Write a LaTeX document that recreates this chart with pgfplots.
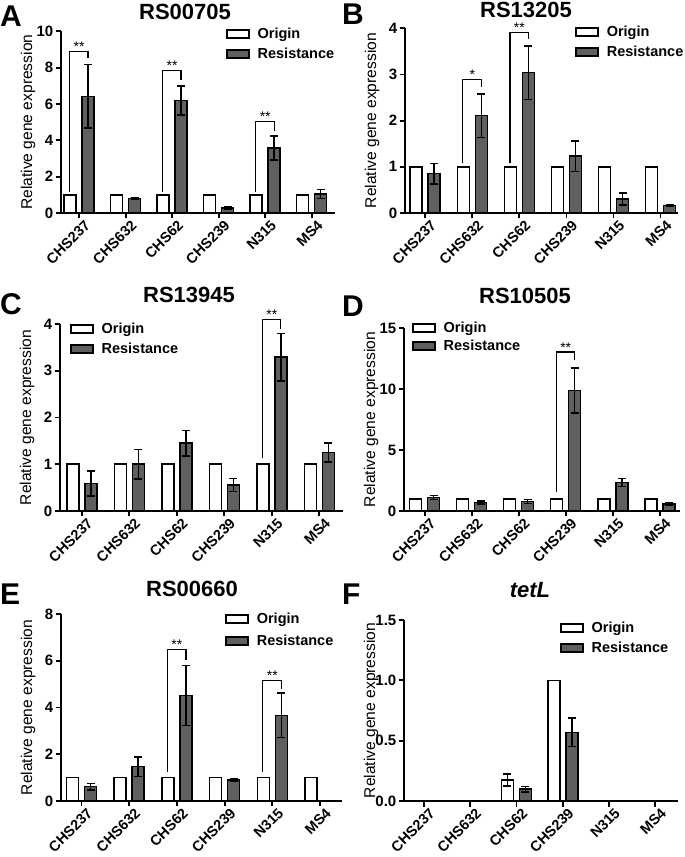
\documentclass[border=0pt]{standalone}
\usepackage{fontspec}
\setmainfont{Liberation Sans}
\usepackage{pgfplots}
\pgfplotsset{compat=1.18}
\usepackage{pgfplotstable}

\definecolor{resgray}{RGB}{95,95,95}
\newcommand{\fs}[1]{\fontsize{#1}{#1}\selectfont}

\pgfplotstableread{
x r re
0 6.42 1.75
1 0.79 0.05
2 6.20 0.80
3 0.28 0.07
4 3.58 0.66
5 1.05 0.25
}\tabA
\pgfplotstableread{
x r re
0 0.85 0.22
1 2.11 0.47
2 3.04 0.58
3 1.23 0.33
4 0.30 0.13
5 0.16 0.01
}\tabB
\pgfplotstableread{
x r re
0 0.59 0.27
1 1.00 0.32
2 1.45 0.27
3 0.56 0.14
4 3.29 0.51
5 1.25 0.20
}\tabC
\pgfplotstableread{
x r re
0 1.12 0.17
1 0.71 0.12
2 0.77 0.17
3 9.88 1.85
4 2.33 0.33
5 0.57 0.08
}\tabD
\pgfplotstableread{
x r re
0 0.61 0.14
1 1.47 0.42
2 4.51 1.28
3 0.89 0.05
4 3.66 0.95
}\tabE
\pgfplotstableread{
x o oe r re
2 0.174 0.050 0.099 0.023
3 1.000 0.000 0.569 0.117
}\tabF
\pgfplotstableread{
x o
0 1
1 1
2 1
3 1
4 1
5 1
}\tabOne

\pgfplotsset{
 panel/.style={
  scale only axis, anchor=south west,
  ymin=0, enlargelimits=false,
  axis x line*=bottom, axis y line*=left,
  axis line style={line width=1.8pt, black},
  xtick={0,1,2,3,4,5},
  xticklabels={CHS237,CHS632,CHS62,CHS239,N315,MS4},
  tick align=outside, major tick length=5.5pt,
  every tick/.style={black, line width=1.8pt},
  /pgf/number format/assume math mode=true,
  xticklabel style={rotate=45, anchor=east, font=\bfseries\fs{14.5}, inner sep=1pt, xshift=4pt, yshift=-9pt},
  yticklabel style={font=\bfseries\fs{15}, inner sep=2pt},
  ylabel={Relative gene expression},
  every axis y label/.style={at={(axis description cs:0,0.5)}, xshift=-33pt, rotate=90, anchor=center, font=\fs{15.6}},
  ybar, bar width=12pt, ybar=6pt,
  legend cell align=left,
  legend style={draw=none, fill=none, anchor=north west, font=\bfseries\fs{14.5}, row sep=4pt, inner sep=0pt,
    /tikz/every odd column/.append style={column sep=6pt}},
  clip=false,
 },
 org/.style={fill=white, draw=black, line width=1.5pt,
   legend image code/.code={\draw[fill=white, draw=black, line width=1.5pt] (0pt,-4pt) rectangle (22pt,4pt);}},
 res/.style={fill=resgray, draw=black, line width=1.5pt,
   legend image code/.code={\draw[fill=resgray, draw=black, line width=1.5pt] (0pt,-4pt) rectangle (22pt,4pt);}},
 ebar/.style={/pgfplots/error bars/y dir=both, /pgfplots/error bars/y explicit,
   /pgfplots/error bars/error bar style={line width=1.5pt, black},
   /pgfplots/error bars/error mark options={rotate=90, mark size=4pt, line width=1.5pt, black}},
}

% bracket: x, left bottom, top, right bottom, stars
\newcommand{\brk}[5]{%
 \draw[line width=1.1pt] (axis cs:#1-0.2,#2) |- (axis cs:#1+0.19,#3) -- (axis cs:#1+0.19,#4);
 \node[font=\fs{14}, anchor=base, inner sep=0pt] at (axis cs:#1,#3) {#5};}

\begin{document}
\begin{tikzpicture}
\useasboundingbox (0,0) rectangle (685pt,857pt);

% ---------- A ----------
\begin{axis}[panel, at={(61pt,644pt)}, width=274pt, height=181.7pt,
  xmin=-0.39, xmax=5.5, ymax=10, ytick={0,2,4,6,8,10},
  legend style={at={(0.602,1.03)}}]
\addplot[org] table[x=x, y=o] {\tabOne};
\addplot[res, ebar] table[x=x, y=r, y error=re] {\tabA};
\legend{Origin, Resistance}
\brk{0}{1.15}{8.9}{8.55}{**}
\brk{2}{1.15}{7.85}{7.3}{**}
\brk{4}{1.15}{5.05}{4.5}{**}
\end{axis}

% ---------- B ----------
\begin{axis}[panel, at={(405pt,644pt)}, width=273pt, height=184.7pt,
  xmin=-0.43, xmax=5.37, ymax=4, ytick={0,1,2,3,4},
  legend style={at={(0.623,1.025)}}]
\addplot[org] table[x=x, y=o] {\tabOne};
\addplot[res, ebar] table[x=x, y=r, y error=re] {\tabB};
\legend{Origin, Resistance}
\brk{1}{1.08}{2.9}{2.72}{*}
\brk{2}{1.08}{3.91}{3.76}{**}
\end{axis}

% ---------- C ----------
\begin{axis}[panel, at={(60pt,346pt)}, width=283pt, height=187pt,
  xmin=-0.46, xmax=5.5, ymax=4, ytick={0,1,2,3,4},
  legend style={at={(0.035,1.018)}}]
\addplot[org] table[x=x, y=o] {\tabOne};
\addplot[res, ebar] table[x=x, y=r, y error=re] {\tabC};
\legend{Origin, Resistance}
\brk{4}{1.13}{4.09}{3.9}{**}
\end{axis}

% ---------- D ----------
\begin{axis}[panel, at={(404pt,346pt)}, width=276pt, height=183pt,
  xmin=-0.44, xmax=5.43, ymax=15, ytick={0,5,10,15},
  legend style={at={(0.029,1.045)}, row sep=2pt}]
\addplot[org] table[x=x, y=o] {\tabOne};
\addplot[res, ebar] table[x=x, y=r, y error=re] {\tabD};
\legend{Origin, Resistance}
\brk{3}{1.59}{13.03}{12.4}{**}
\end{axis}

% ---------- E ----------
\begin{axis}[panel, at={(61pt,56pt)}, width=281pt, height=187pt,
  xmin=-0.43, xmax=5.46, ymax=8, ytick={0,2,4,6,8},
  legend style={at={(0.584,1.018)}, row sep=6pt}]
\addplot[org] table[x=x, y=o] {\tabOne};
\addplot[res, ebar] table[x=x, y=r, y error=re] {\tabE};
\legend{Origin, Resistance}
\brk{2}{1.26}{6.47}{6.05}{**}
\brk{4}{1.26}{5.16}{4.8}{**}
\end{axis}

% ---------- F ----------
\begin{axis}[panel, at={(404pt,56pt)}, width=274pt, height=181pt,
  xmin=-0.43, xmax=5.49, ymax=1.5, ytick={0,0.5,1,1.5},
  yticklabel style={/pgf/number format/.cd, fixed, fixed zerofill, precision=1},
  legend style={at={(0.569,1.0)}}]
\addplot[org, ebar] table[x=x, y=o, y error=oe] {\tabF};
\addplot[res, ebar] table[x=x, y=r, y error=re] {\tabF};
\legend{Origin, Resistance}
\end{axis}

% titles
\node[anchor=base, font=\bfseries\fs{22}] at (185pt,837pt) {RS00705};
\node[anchor=base, font=\bfseries\fs{22}] at (526pt,839pt) {RS13205};
\node[anchor=base, font=\bfseries\fs{22}] at (189pt,554pt) {RS13945};
\node[anchor=base, font=\bfseries\fs{22}] at (525pt,553pt) {RS10505};
\node[anchor=base, font=\bfseries\fs{22}] at (192pt,260pt) {RS00660};
\node[anchor=base, font=\bfseries\itshape\fs{22}] at (530pt,259pt) {tetL};
% panel letters
\node[anchor=base west, inner sep=0pt, font=\bfseries\fs{30}] at (0pt,830pt) {A};
\node[anchor=base west, inner sep=0pt, font=\bfseries\fs{30}] at (342pt,832pt) {B};
\node[anchor=base west, inner sep=0pt, font=\bfseries\fs{30}] at (0pt,542pt) {C};
\node[anchor=base west, inner sep=0pt, font=\bfseries\fs{30}] at (342pt,540pt) {D};
\node[anchor=base west, inner sep=0pt, font=\bfseries\fs{30}] at (0pt,252pt) {E};
\node[anchor=base west, inner sep=0pt, font=\bfseries\fs{30}] at (342pt,252pt) {F};
\end{tikzpicture}
\end{document}
